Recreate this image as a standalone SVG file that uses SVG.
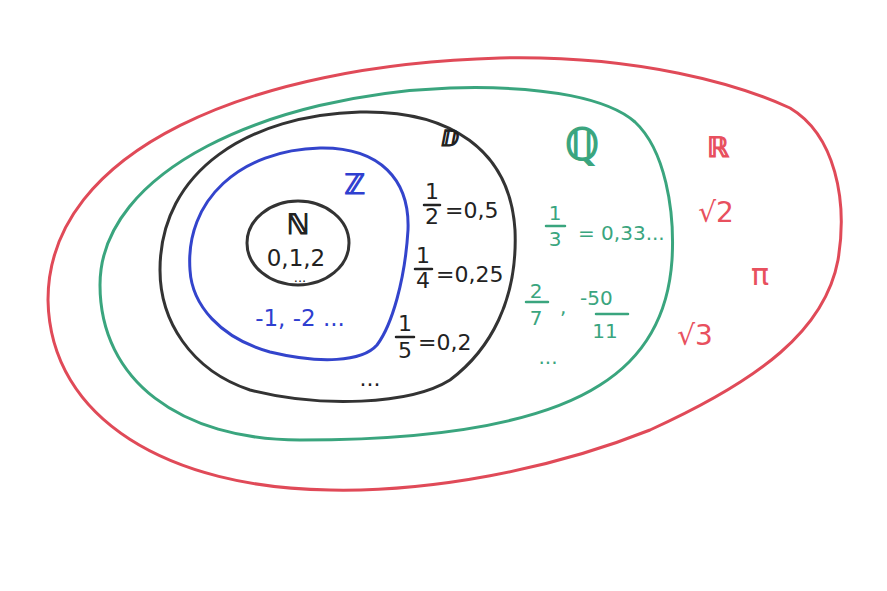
<svg xmlns="http://www.w3.org/2000/svg" width="887" height="591" viewBox="0 0 887 591">
<style>
.set{fill:none;stroke-width:3;stroke-linecap:round}
.t{font-family:"DejaVu Sans","Liberation Sans",sans-serif}
.k{fill:#222}
.b{fill:#2f3fd0}
.g{fill:#3aa57e}
.r{fill:#e8505e}
.bar{stroke-width:2.5;stroke-linecap:round}
.thick{stroke-width:1.2}
</style>
<rect width="887" height="591" fill="#fff"/>
<g id="sets">
<g id="R"><path class="set" stroke="#e04a58" d="M48,300 C48,150 250,65 500,58 C640,55 740,85 790,108 C835,135 848,200 838,260 C825,330 760,380 650,430 C550,470 430,492 330,490 C170,488 50,420 48,300 Z"/></g>
<g id="Q"><path class="set" stroke="#3aa57e" d="M100,285 C100,170 270,95 450,88 C550,85 610,100 635,122 C665,150 675,210 672,260 C668,320 640,360 600,385 C530,430 410,440 300,440 C180,440 100,380 100,285 Z"/></g>
<g id="D"><path class="set" stroke="#333" d="M160,270 C160,170 250,115 360,112 C450,110 510,150 515,230 C518,300 490,350 450,380 C410,405 320,408 250,390 C190,370 160,320 160,270 Z"/></g>
<g id="Z"><path class="set" stroke="#3344cc" d="M190,270 C185,200 240,150 320,148 C380,147 410,180 408,230 C405,280 392,325 377,345 C362,362 320,364 270,352 C220,338 192,305 190,270 Z"/></g>
<g id="N"><ellipse class="set" stroke="#333" cx="298" cy="243" rx="51" ry="42"/></g>
</g>
<g id="labels" class="t">
<text class="k thick" stroke="#222" x="298" y="234" font-size="28" text-anchor="middle">ℕ</text>
<text class="k" x="296" y="266" font-size="23" text-anchor="middle">0,1,2</text>
<text class="k" x="300" y="282" font-size="13" text-anchor="middle">...</text>
<text class="b thick" stroke="#2f3fd0" x="355" y="194" font-size="28" text-anchor="middle">ℤ</text>
<text class="b" x="300" y="326" font-size="23" text-anchor="middle">-1, -2 ...</text>
<text class="k thick" stroke="#222" x="450" y="146" font-size="22" text-anchor="middle">ⅅ</text>

<g class="k" font-size="22">
<text x="432" y="199" text-anchor="middle">1</text>
<line class="bar" stroke="#222" x1="424" y1="205" x2="440" y2="205"/>
<text x="432" y="224" text-anchor="middle">2</text>
<text x="445" y="218">=0,5</text>
<text x="423" y="263" text-anchor="middle">1</text>
<line class="bar" stroke="#222" x1="415" y1="269" x2="432" y2="269"/>
<text x="423" y="288" text-anchor="middle">4</text>
<text x="436" y="282">=0,25</text>
<text x="405" y="331" text-anchor="middle">1</text>
<line class="bar" stroke="#222" x1="396" y1="337" x2="414" y2="337"/>
<text x="405" y="358" text-anchor="middle">5</text>
<text x="418" y="350">=0,2</text>
<text x="370" y="386" text-anchor="middle">...</text>
</g>

<text class="g thick" stroke="#3aa57e" x="582" y="160" font-size="44" text-anchor="middle">ℚ</text>
<g class="g" font-size="20">
<text x="555" y="220" text-anchor="middle">1</text>
<line class="bar" stroke="#3aa57e" x1="546" y1="226" x2="565" y2="226"/>
<text x="555" y="246" text-anchor="middle">3</text>
<text x="578" y="240">= 0,33...</text>
<text x="536" y="298" text-anchor="middle">2</text>
<line class="bar" stroke="#3aa57e" x1="526" y1="302" x2="548" y2="302"/>
<text x="536" y="325" text-anchor="middle">7</text>
<text x="560" y="314">,</text>
<text x="580" y="305">-50</text>
<line class="bar" stroke="#3aa57e" x1="596" y1="314" x2="628" y2="314"/>
<text x="605" y="338" text-anchor="middle">11</text>
<text x="548" y="364" text-anchor="middle">...</text>
</g>

<g class="r">
<text class="thick" stroke="#e8505e" x="718" y="157" font-size="28" text-anchor="middle">ℝ</text>
<text x="716" y="222" font-size="28" text-anchor="middle">√2</text>
<text x="760" y="285" font-size="30" text-anchor="middle">π</text>
<text x="695" y="345" font-size="28" text-anchor="middle">√3</text>
</g>
</g>
</svg>
